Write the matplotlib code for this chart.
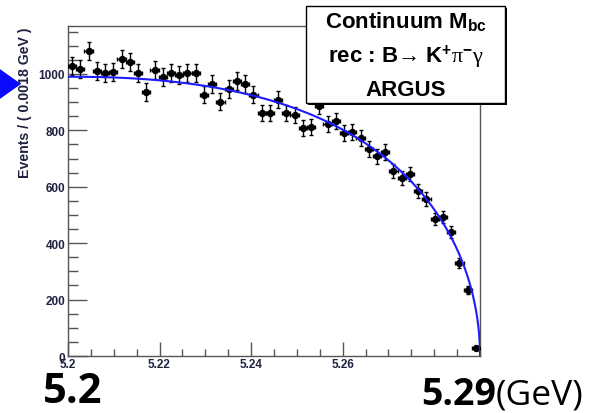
import numpy as np
import matplotlib
matplotlib.use("Agg")
import matplotlib.pyplot as plt
from matplotlib.patches import Rectangle, Polygon

# ---- data ----
x_low, x_high = 5.2, 5.29
n_bins = 50
counts = [1028, 1018, 1082, 1011, 1004, 1007, 1053, 1043, 1004, 936,
          1014, 989, 1004, 996, 1004, 1004, 926, 965, 901, 947,
          975, 965, 926, 862, 862, 908, 862, 855, 809, 812,
          887, 823, 833, 791, 794, 773, 734, 709, 723, 656,
          631, 645, 585, 557, 486, 493, 440, 330, 234, 28]
y_ticks = [0, 200, 400, 600, 800, 1000]
x_ticks = [5.2, 5.22, 5.24, 5.26]
x_tick_labels = ["5.2", "5.22", "5.24", "5.26"]
# ARGUS fit parameters
argus_m0 = 5.29
argus_c = -14.5
argus_at_start = 990.0

plt.rcParams['mathtext.fontset'] = 'custom'
plt.rcParams['mathtext.rm'] = 'Liberation Serif'
plt.rcParams['mathtext.it'] = 'Liberation Serif'
plt.rcParams['mathtext.bf'] = 'Liberation Sans:bold'
plt.rcParams['mathtext.default'] = 'rm'

W, H = 600, 414
fig = plt.figure(figsize=(6.0, 4.14), dpi=100)

def fx(px):
    return px / W

def fy(py):
    return 1 - py / H

ax_l, ax_r, ax_t, ax_b = 68, 480, 27, 357
ax = fig.add_axes([fx(ax_l), fy(ax_b), fx(ax_r - ax_l), (ax_b - ax_t) / H])

bw = (x_high - x_low) / n_bins
centers = x_low + bw * (np.arange(n_bins) + 0.5)
vals = np.array(counts, dtype=float)
yerr = np.sqrt(vals)

ax.errorbar(centers, vals, yerr=yerr, xerr=bw / 2, fmt='o', color='black',
            ms=4.3, elinewidth=1.0, capsize=1.3, capthick=1.0, zorder=3)

def argus(m):
    t = 1 - (m / argus_m0) ** 2
    t = np.clip(t, 0, None)
    return m * np.sqrt(t) * np.exp(argus_c * t)

norm = argus_at_start / argus(x_low)
mm = np.concatenate([np.linspace(x_low, 5.285, 300), np.linspace(5.285, argus_m0, 300)])
ax.plot(mm, norm * argus(mm), color='#1c1cff', lw=1.5, zorder=4)

ax.set_xlim(x_low, x_high)
ax.set_ylim(0, 1170)

ax.set_yticks(y_ticks)
ax.set_yticklabels([str(v) for v in y_ticks])
ax.set_yticks(np.arange(0, 1151, 50), minor=True)
ax.set_xticks(x_ticks)
ax.set_xticklabels(x_tick_labels)
ax.set_xticks(np.arange(5.2, 5.2901, 0.005), minor=True)

lab_col = '#1e2240'
ax.tick_params(axis='both', which='both', direction='in', colors='#555555',
               labelcolor=lab_col, top=False, right=False)
ax.tick_params(axis='y', which='major', length=14, width=1.0, pad=2, labelsize=8.5)
ax.tick_params(axis='y', which='minor', length=7, width=1.0)
ax.tick_params(axis='x', which='major', length=10, width=1.0, pad=1.5, labelsize=8.5)
ax.tick_params(axis='x', which='minor', length=5, width=1.0)
for lbl in ax.get_xticklabels() + ax.get_yticklabels():
    lbl.set_fontfamily('Liberation Sans')
    lbl.set_fontweight('bold')
for s in ax.spines.values():
    s.set_color('#555555')
    s.set_linewidth(1.0)

# y-axis title
fig.text(fx(25), fy(28), "Events / ( 0.0018 GeV )", rotation=90, ha='center', va='top',
         fontsize=10.2, fontweight='bold', family='Liberation Sans', color=lab_col)

# text box with shadow
bx0, bx1, by0, by1 = 306, 505, 7, 104
fig.patches.append(Rectangle((fx(bx0 + 2), fy(by1 + 2)), fx(bx1 - bx0), (by1 - by0) / H,
                             transform=fig.transFigure, facecolor='black', edgecolor='none', zorder=5))
fig.patches.append(Rectangle((fx(bx0), fy(by1)), fx(bx1 - bx0), (by1 - by0) / H,
                             transform=fig.transFigure, facecolor='white', edgecolor='black',
                             lw=1.0, zorder=6))
cx = fx((bx0 + bx1) / 2)
tkw = dict(ha='center', va='baseline', fontsize=16, fontweight='bold',
           family=['Liberation Sans', 'DejaVu Sans'], color='black', zorder=7)
fig.text(cx, fy(28), r"Continuum M$_{\mathbf{bc}}$", **tkw)
fig.text(cx, fy(62), r"rec : B→ K$^{\mathbf{+}}\pi^{\mathbf{-}}\gamma$", **tkw)
fig.text(cx, fy(96), "ARGUS", **tkw)

# blue arrow marker on the left
fig.patches.append(Polygon([(fx(-3), fy(68)), (fx(21), fy(85)), (fx(-3), fy(102))],
                           closed=True, transform=fig.transFigure, facecolor='#0a0aff',
                           edgecolor='none', zorder=8))

# big annotations under the axis
fig.text(fx(43), fy(403), "5.2", ha='left', va='baseline', fontsize=30,
         fontweight='bold', family='Open Sans', color='black')
fig.text(fx(496), fy(405), "5.29", ha='right', va='baseline', fontsize=27,
         fontweight='bold', family='Open Sans', color='black')
fig.text(fx(496), fy(405), "(GeV)", ha='left', va='baseline', fontsize=25.5,
         fontweight='normal', family='Open Sans', color='black')

fig.savefig("out.png", dpi=100)
